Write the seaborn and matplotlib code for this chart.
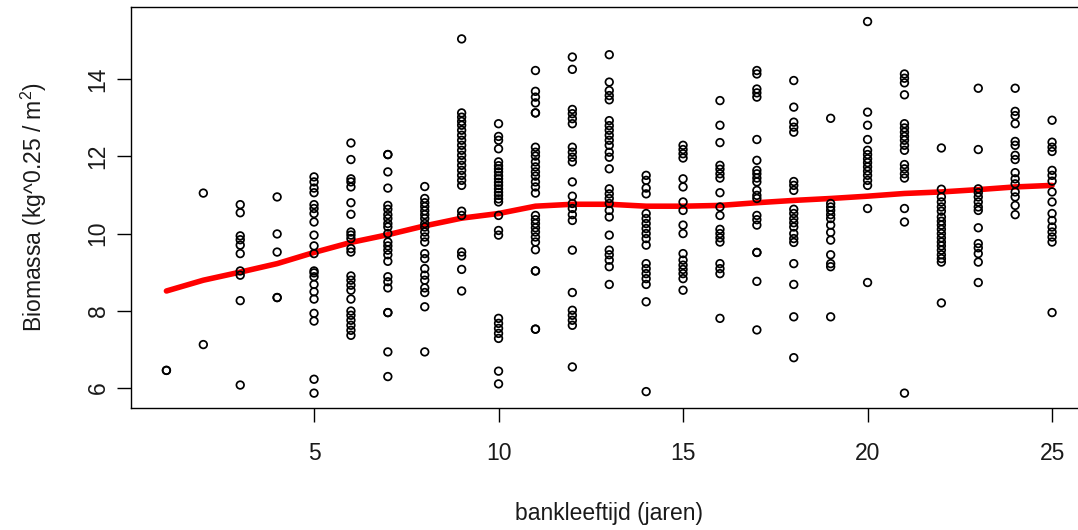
import numpy as np
import pandas as pd
import matplotlib
matplotlib.use("Agg")
import matplotlib.pyplot as plt
import seaborn as sns

# Biomass measurements per bank age (years 1..25)
jaar_01 = [6.45, 6.45]
jaar_02 = [11.05, 7.12]
jaar_03 = [10.75, 10.54, 9.94, 9.84, 9.70, 9.48, 9.03, 8.92, 8.26, 6.07]
jaar_04 = [10.95, 9.99, 9.52, 8.34, 8.34]
jaar_05 = [11.47, 11.34, 11.18, 11.06, 10.75, 10.65, 10.52, 10.30, 9.96, 9.68,
           9.48, 9.03, 8.98, 8.88, 8.68, 8.49, 8.30, 7.93, 7.73, 6.22, 5.86]
jaar_06 = [12.35, 11.92, 11.42, 11.34, 11.21, 10.80, 10.50, 10.04, 9.96, 9.87,
           9.61, 9.52, 8.90, 8.79, 8.66, 8.53, 8.30, 7.99, 7.88, 7.75, 7.62,
           7.49, 7.36]
jaar_07 = [12.05, 12.05, 11.60, 11.18, 10.73, 10.63, 10.49, 10.39, 10.26, 10.17,
           10.00, 9.78, 9.68, 9.57, 9.45, 9.28, 8.88, 8.75, 8.59, 7.95, 7.95,
           6.93, 6.29]
jaar_08 = [11.22, 10.91, 10.80, 10.70, 10.59, 10.49, 10.39, 10.26, 10.17, 10.04,
           9.91, 9.78, 9.48, 9.35, 9.09, 8.92, 8.79, 8.59, 8.47, 8.10, 6.93]
jaar_09 = [15.05, 13.13, 13.02, 12.91, 12.81, 12.68, 12.55, 12.42, 12.29, 12.16,
           12.03, 11.90, 11.77, 11.64, 11.51, 11.38, 11.25, 10.58, 10.47, 9.52,
           9.42, 9.07, 8.51]
jaar_10 = [12.85, 12.52, 12.42, 12.20, 11.86, 11.76, 11.68, 11.60, 11.50, 11.42,
           11.33, 11.25, 11.16, 11.07, 10.99, 10.90, 10.82, 10.47, 10.08, 9.96,
           7.80, 7.67, 7.54, 7.41, 7.28, 6.43, 6.10]
jaar_11 = [14.23, 13.69, 13.54, 13.39, 13.13, 13.13, 12.24, 12.11, 12.01, 11.86,
           11.73, 11.60, 11.49, 11.34, 11.21, 11.05, 10.47, 10.36, 10.26, 10.15,
           10.04, 9.91, 9.78, 9.58, 9.03, 9.03, 7.52, 7.52]
jaar_12 = [14.58, 14.26, 13.22, 13.11, 12.98, 12.85, 12.24, 12.11, 11.98, 11.86,
           11.34, 10.97, 10.78, 10.65, 10.49, 10.34, 9.57, 8.47, 8.01, 7.88,
           7.75, 7.62, 6.54]
jaar_13 = [14.64, 13.93, 13.71, 13.58, 13.47, 12.93, 12.80, 12.68, 12.55, 12.42,
           12.29, 12.11, 11.98, 11.68, 11.16, 11.03, 10.91, 10.78, 10.60, 10.43,
           9.96, 9.57, 9.45, 9.31, 9.14, 8.68]
jaar_14 = [11.51, 11.38, 11.18, 11.03, 10.52, 10.39, 10.26, 10.13, 10.00, 9.87,
           9.70, 9.22, 9.09, 8.96, 8.83, 8.68, 8.23, 5.90]
jaar_15 = [12.29, 12.18, 12.07, 11.96, 11.42, 11.21, 10.82, 10.60, 10.22, 10.00,
           9.48, 9.31, 9.18, 9.07, 8.96, 8.83, 8.53]
jaar_16 = [13.45, 12.81, 12.36, 11.77, 11.67, 11.55, 11.44, 11.06, 10.69, 10.47,
           10.11, 10.00, 9.89, 9.78, 9.22, 9.09, 8.96, 7.80]
jaar_17 = [14.23, 14.14, 13.75, 13.65, 13.54, 12.44, 11.90, 11.64, 11.55, 11.44,
           11.34, 11.12, 10.99, 10.91, 10.47, 10.36, 10.22, 9.51, 9.51, 8.76, 7.50]
jaar_18 = [13.97, 13.28, 12.89, 12.76, 12.63, 11.35, 11.25, 11.12, 10.63, 10.52,
           10.39, 10.28, 10.17, 10.00, 9.87, 9.77, 9.22, 8.68, 7.84, 6.78]
jaar_19 = [12.99, 10.78, 10.69, 10.60, 10.49, 10.39, 10.22, 10.03, 9.83, 9.45,
           9.22, 9.14, 7.84]
jaar_20 = [15.50, 13.15, 12.81, 12.44, 12.16, 12.05, 11.94, 11.84, 11.73, 11.62,
           11.51, 11.38, 11.25, 10.65, 8.73]
jaar_21 = [14.14, 14.03, 13.91, 13.60, 12.85, 12.74, 12.63, 12.52, 12.42, 12.29,
           12.16, 11.79, 11.68, 11.55, 11.44, 10.65, 10.30, 5.86]
jaar_22 = [12.22, 11.15, 10.95, 10.82, 10.69, 10.58, 10.43, 10.32, 10.22, 10.11,
           10.00, 9.89, 9.78, 9.68, 9.57, 9.45, 9.35, 9.26, 8.20]
jaar_23 = [13.77, 12.18, 11.16, 11.06, 10.95, 10.82, 10.69, 10.60, 10.15, 9.74,
           9.63, 9.48, 9.26, 8.73]
jaar_24 = [13.77, 13.17, 13.06, 12.85, 12.39, 12.29, 12.03, 11.92, 11.58, 11.42,
           11.29, 11.08, 10.95, 10.73, 10.49]
jaar_25 = [12.94, 12.37, 12.24, 12.13, 11.64, 11.51, 11.36, 11.08, 10.82, 10.52,
           10.34, 10.17, 10.04, 9.91, 9.78, 7.95]

# Smoothed (lowess) trend per bank age
trend_jaar = list(range(1, 26))
trend_biomassa = [8.51, 8.79, 9.00, 9.22, 9.51, 9.77, 9.97, 10.20, 10.40, 10.52,
                  10.71, 10.76, 10.76, 10.71, 10.71, 10.73, 10.80, 10.86, 10.91,
                  10.97, 11.04, 11.08, 11.14, 11.21, 11.25]

x_ticks = [5, 10, 15, 20, 25]
y_ticks = [6, 8, 10, 12, 14]

per_jaar = [jaar_01, jaar_02, jaar_03, jaar_04, jaar_05, jaar_06, jaar_07,
            jaar_08, jaar_09, jaar_10, jaar_11, jaar_12, jaar_13, jaar_14,
            jaar_15, jaar_16, jaar_17, jaar_18, jaar_19, jaar_20, jaar_21,
            jaar_22, jaar_23, jaar_24, jaar_25]
df = pd.DataFrame({
    "bankleeftijd": np.repeat(np.arange(1, 26), [len(v) for v in per_jaar]),
    "biomassa": np.concatenate(per_jaar),
})

sns.set_style("ticks")
plt.rcParams["font.family"] = ["Liberation Sans", "DejaVu Sans"]
plt.rcParams["mathtext.default"] = "regular"
FS = 16.5
TXT = "#1a1a1a"

W, H = 1078, 530
fig = plt.figure(figsize=(W / 100, H / 100), dpi=100)
left, right, top, bottom = 131, 1087.5, 6.7, 408
ax = fig.add_axes([left / W, 1 - bottom / H, (right - left) / W, (bottom - top) / H])

sns.lineplot(x=trend_jaar, y=trend_biomassa, ax=ax, color="#ff0000",
             linewidth=4.0, zorder=2)
sns.scatterplot(data=df, x="bankleeftijd", y="biomassa", ax=ax, marker="o",
                s=30, facecolor="none", edgecolor="black", linewidth=1.25,
                zorder=3)

# R-style axis limits: data range extended by 4% on each side
xmin, xmax = df["bankleeftijd"].min(), df["bankleeftijd"].max()
ymin, ymax = df["biomassa"].min(), df["biomassa"].max()
ax.set_xlim(xmin - 0.04 * (xmax - xmin), xmax + 0.04 * (xmax - xmin))
ax.set_ylim(ymin - 0.04 * (ymax - ymin), ymax + 0.04 * (ymax - ymin))

ax.set_xticks(x_ticks)
ax.set_yticks(y_ticks)
ax.tick_params(axis="both", length=10.4, width=1.0, color="black",
               labelsize=FS, labelcolor=TXT)
ax.tick_params(axis="x", pad=14)
ax.tick_params(axis="y", pad=5, labelrotation=90)
for lab in ax.get_yticklabels():
    lab.set_va("center")

for sp in ax.spines.values():
    sp.set_visible(True)
    sp.set_color("black")
    sp.set_linewidth(1.0)

ax.set_xlabel("bankleeftijd (jaren)", fontsize=FS, color=TXT)
ax.set_ylabel("Biomassa (kg^0.25 / m$^{2}$)", fontsize=FS, color=TXT)
ax.xaxis.set_label_coords(0.5, (bottom - 502) / (bottom - top))
ax.yaxis.set_label_coords((49 - left) / (right - left), 0.5)
ax.grid(False)

fig.savefig("out.png", dpi=100)
